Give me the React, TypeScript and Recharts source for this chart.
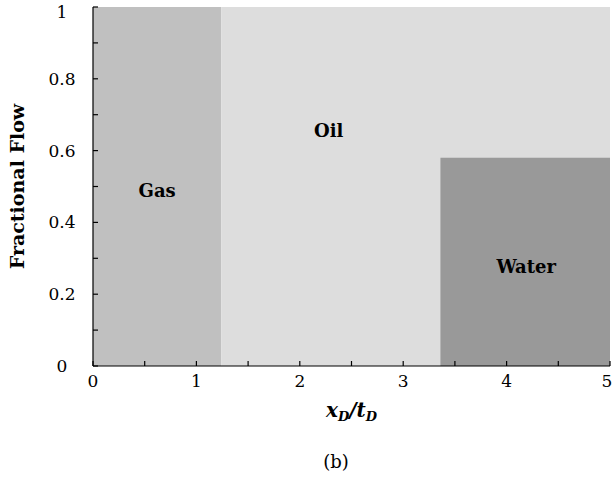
import React from "react";
import {
  ComposedChart,
  XAxis,
  YAxis,
  ReferenceArea,
  Scatter,
  Label,
} from "recharts";

// phase boundaries in x_D/t_D and fractional flow
const gasFront = 1.24;
const waterFront = 3.36;
const waterTop = 0.58;

const xTicks = [0, 0.5, 1, 1.5, 2, 2.5, 3, 3.5, 4, 4.5, 5];
const yTicks = [0, 0.1, 0.2, 0.3, 0.4, 0.5, 0.6, 0.7, 0.8, 0.9, 1];
const xTickLabels = ["0", "1", "2", "3", "4", "5"];
const yTickLabels = ["0", "0.2", "0.4", "0.6", "0.8", "1"];

const regionNames = ["Gas", "Oil", "Water"];
const regionX = [0.62, 2.28, 4.19];
const regionY = [0.49, 0.655, 0.278];

const labelData = regionNames.map((name, i) => ({
  x: regionX[i],
  y: regionY[i],
  name,
}));

const serif = "'DejaVu Serif', 'Liberation Serif', serif";
const TICK = 5;
const W = 613;

const BottomTick = (props: any) => {
  const { x, y, payload } = props;
  const v = payload.value;
  const lbl = Number.isInteger(v) ? xTickLabels[v] : null;
  return (
    <g>
      <line x1={x} x2={x} y1={y} y2={y - TICK} stroke="#000" strokeWidth={1.2} />
      {lbl !== null && (
        <text
          x={Math.min(x, W - 6)}
          y={y + 15}
          textAnchor="middle"
          dominantBaseline="central"
          fontFamily={serif}
          fontSize={17}
          fill="#000"
        >
          {lbl}
        </text>
      )}
    </g>
  );
};

const TopTick = (props: any) => {
  const { x, y } = props;
  return <line x1={x} x2={x} y1={y} y2={y + TICK} stroke="#000" strokeWidth={1.2} />;
};

const LeftTick = (props: any) => {
  const { x, y, index } = props;
  const lbl = index % 2 === 0 ? yTickLabels[index / 2] : null;
  return (
    <g>
      <line x1={x} x2={x + TICK} y1={y} y2={y} stroke="#000" strokeWidth={1.2} />
      {lbl !== null && (
        <text
          x={x - 31}
          y={Math.max(y, 12)}
          textAnchor="middle"
          dominantBaseline="central"
          fontFamily={serif}
          fontSize={17}
          fill="#000"
        >
          {lbl}
        </text>
      )}
    </g>
  );
};

const RightTick = (props: any) => {
  const { x, y } = props;
  return <line x1={x} x2={x - TICK} y1={y} y2={y} stroke="#000" strokeWidth={1.2} />;
};

const RegionText = (props: any) => {
  const { cx, cy, payload } = props;
  return (
    <text
      x={cx}
      y={cy}
      textAnchor="middle"
      dominantBaseline="central"
      fontFamily={serif}
      fontWeight="bold"
      fontSize={18}
      fill="#000"
    >
      {payload.name}
    </text>
  );
};

export default function App() {
  return (
    <div
      style={{
        position: "absolute",
        left: 0,
        top: 0,
        width: 613,
        height: 495,
        background: "#fff",
      }}
    >
      <ComposedChart
        width={613}
        height={495}
        data={labelData}
        margin={{ top: 7, right: 3, bottom: 69, left: 33 }}
      >
        <XAxis
          type="number"
          dataKey="x"
          domain={[0, 5]}
          ticks={xTicks}
          height={60}
          tickSize={0}
          tickMargin={0}
          tick={<BottomTick />}
          axisLine={{ stroke: "#000", strokeWidth: 1.2 }}
          interval={0}
          allowDataOverflow
        >
          <Label
            content={(p: any) => {
              const vb = p.viewBox;
              return (
                <text
                  x={vb.x + vb.width / 2}
                  y={vb.y + 51}
                  textAnchor="middle"
                  fontFamily={serif}
                  fontWeight="bold"
                  fontStyle="italic"
                  fontSize={20}
                  fill="#000"
                >
                  x
                  <tspan fontSize={13} dy={4}>D</tspan>
                  <tspan dy={-4}>/t</tspan>
                  <tspan fontSize={13} dy={4}>D</tspan>
                </text>
              );
            }}
          />
        </XAxis>
        <XAxis
          xAxisId="top"
          orientation="top"
          type="number"
          dataKey="x"
          domain={[0, 5]}
          ticks={xTicks}
          height={0}
          tickSize={0}
          tickMargin={0}
          tick={<TopTick />}
          axisLine={{ stroke: "#000", strokeWidth: 1.2 }}
          interval={0}
          allowDataOverflow
        />
        <YAxis
          type="number"
          dataKey="y"
          domain={[0, 1]}
          ticks={yTicks}
          width={60}
          tickSize={0}
          tickMargin={0}
          tick={<LeftTick />}
          axisLine={{ stroke: "#000", strokeWidth: 1.2 }}
          interval={0}
          allowDataOverflow
        >
          <Label
            content={(p: any) => {
              const vb = p.viewBox;
              const cx = 17;
              const cy = vb.y + vb.height / 2;
              return (
                <text
                  x={cx}
                  y={cy}
                  transform={`rotate(-90 ${cx} ${cy})`}
                  textAnchor="middle"
                  dominantBaseline="central"
                  fontFamily={serif}
                  fontWeight="bold"
                  fontSize={19}
                  fill="#000"
                >
                  Fractional Flow
                </text>
              );
            }}
          />
        </YAxis>
        <YAxis
          yAxisId="right"
          orientation="right"
          type="number"
          domain={[0, 1]}
          ticks={yTicks}
          width={0}
          tickSize={0}
          tickMargin={0}
          tick={<RightTick />}
          axisLine={{ stroke: "#444", strokeWidth: 1.2 }}
          interval={0}
          allowDataOverflow
        />
        <ReferenceArea x1={0} x2={gasFront} y1={0} y2={1} fill="#c0c0c0" fillOpacity={1} stroke="none" />
        <ReferenceArea x1={gasFront} x2={5} y1={0} y2={1} fill="#dddddd" fillOpacity={1} stroke="none" />
        <ReferenceArea x1={waterFront} x2={5} y1={0} y2={waterTop} fill="#999999" fillOpacity={1} stroke="none" />
        <Scatter data={labelData} dataKey="y" shape={<RegionText />} isAnimationActive={false} />
      </ComposedChart>
      <div
        style={{
          position: "absolute",
          left: 0,
          width: 672,
          top: 451,
          textAlign: "center",
          fontFamily: serif,
          fontSize: 18,
          color: "#000",
        }}
      >
        (b)
      </div>
    </div>
  );
}
